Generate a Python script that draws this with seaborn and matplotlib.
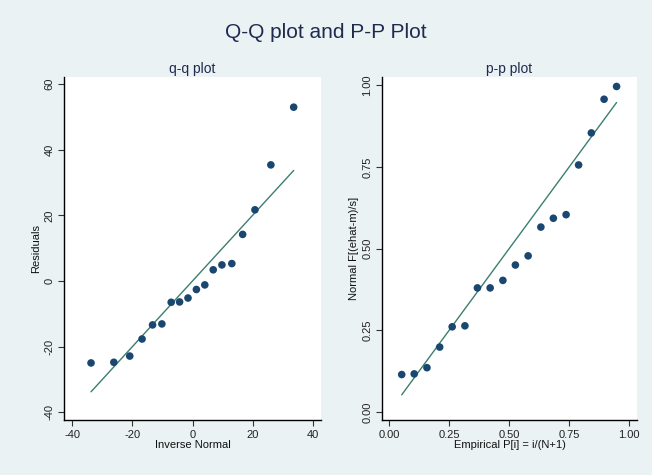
import matplotlib
matplotlib.use("Agg")
import matplotlib.pyplot as plt
import seaborn as sns
import pandas as pd

# Ordered residuals against normal quantiles (q-q)
qq_inverse_normal = [-33.8, -26.2, -20.9, -16.8, -13.3, -10.2, -7.1, -4.3, -1.5,
                     1.3, 4.1, 6.9, 9.8, 13.1, 16.7, 20.8, 26.1, 33.7]
qq_residuals = [-25.0, -24.8, -22.9, -17.7, -13.4, -13.1, -6.5, -6.4, -5.2,
                -2.6, -1.2, 3.4, 4.9, 5.3, 14.2, 21.7, 35.4, 53.0]

# Empirical vs. normal cumulative probabilities (p-p)
pp_empirical = [0.053, 0.105, 0.158, 0.211, 0.263, 0.316, 0.368, 0.421, 0.474,
                0.526, 0.579, 0.632, 0.684, 0.737, 0.789, 0.842, 0.895, 0.947]
pp_normal = [0.115, 0.117, 0.136, 0.199, 0.261, 0.264, 0.380, 0.380, 0.403,
             0.450, 0.478, 0.566, 0.593, 0.604, 0.756, 0.854, 0.957, 0.996]

qq_ticks = [-40, -20, 0, 20, 40]
qq_yticks = [-40, -20, 0, 20, 40, 60]
pp_ticks = [0.0, 0.25, 0.5, 0.75, 1.0]
pp_ticklabels = ["0.00", "0.25", "0.50", "0.75", "1.00"]

BG = "#EAF2F3"
NAVY = "#1A476F"
LINE = "#3B7E70"
TITLE = "#1E2B4F"

sns.set_theme(style="ticks")
plt.rcParams["font.family"] = ["Liberation Sans", "DejaVu Sans"]
plt.rcParams["axes.unicode_minus"] = False

fig = plt.figure(figsize=(6.52, 4.75), dpi=100, facecolor=BG)

ax1 = fig.add_axes([64 / 652, 1 - 420 / 475, 257 / 652, 343 / 475])
ax2 = fig.add_axes([382 / 652, 1 - 420 / 475, 255 / 652, 343 / 475])

qq = pd.DataFrame({"x": qq_inverse_normal, "y": qq_residuals})
pp = pd.DataFrame({"x": pp_empirical, "y": pp_normal})

# reference line y = x spanning the plotted points
qq_ref = pd.DataFrame({"x": [min(qq_inverse_normal), max(qq_inverse_normal)]})
qq_ref["y"] = qq_ref["x"]
pp_ref = pd.DataFrame({"x": [min(pp_empirical), max(pp_empirical)]})
pp_ref["y"] = pp_ref["x"]

for ax, pts, ref in [(ax1, qq, qq_ref), (ax2, pp, pp_ref)]:
    ax.set_facecolor("white")
    sns.lineplot(data=ref, x="x", y="y", ax=ax, color=LINE, linewidth=1.0, zorder=2)
    sns.scatterplot(data=pts, x="x", y="y", ax=ax, color=NAVY, s=30,
                    edgecolor="none", zorder=3)
    for side in ["top", "right"]:
        ax.spines[side].set_visible(False)
    for side in ["left", "bottom"]:
        ax.spines[side].set_color("black")
        ax.spines[side].set_linewidth(1.0)
    ax.tick_params(axis="both", direction="out", length=4, width=0.8,
                   color="#333333", labelsize=8, labelcolor="#222222", pad=3)

ax1.set_xlim(-42.8, 42.8)
ax1.set_ylim(-42.4, 62.2)
ax1.set_xticks(qq_ticks)
ax1.set_yticks(qq_yticks)
ax1.set_yticklabels([str(t) for t in qq_yticks], rotation=90, va="center")
ax1.set_xlabel("Inverse Normal", fontsize=8, color="#111111", labelpad=0)
ax1.set_ylabel("Residuals", fontsize=8, color="#111111", labelpad=2)
ax1.set_title("q-q plot", fontsize=10, color=TITLE, pad=3)

ax2.set_xlim(-0.029, 1.032)
ax2.set_ylim(-0.024, 1.025)
ax2.set_xticks(pp_ticks)
ax2.set_xticklabels(pp_ticklabels)
ax2.set_yticks(pp_ticks)
ax2.set_yticklabels(pp_ticklabels, rotation=90, va="center")
ax2.set_xlabel("Empirical P[i] = i/(N+1)", fontsize=8, color="#111111", labelpad=0)
ax2.set_ylabel("Normal F[(ehat-m)/s]", fontsize=8, color="#111111", labelpad=2)
ax2.set_title("p-p plot", fontsize=10, color=TITLE, pad=3)

fig.text(0.5, 1 - 32 / 475, "Q-Q plot and P-P Plot", ha="center", va="center",
         fontsize=15, color=TITLE)

fig.savefig("out.png", dpi=100, facecolor=BG)
